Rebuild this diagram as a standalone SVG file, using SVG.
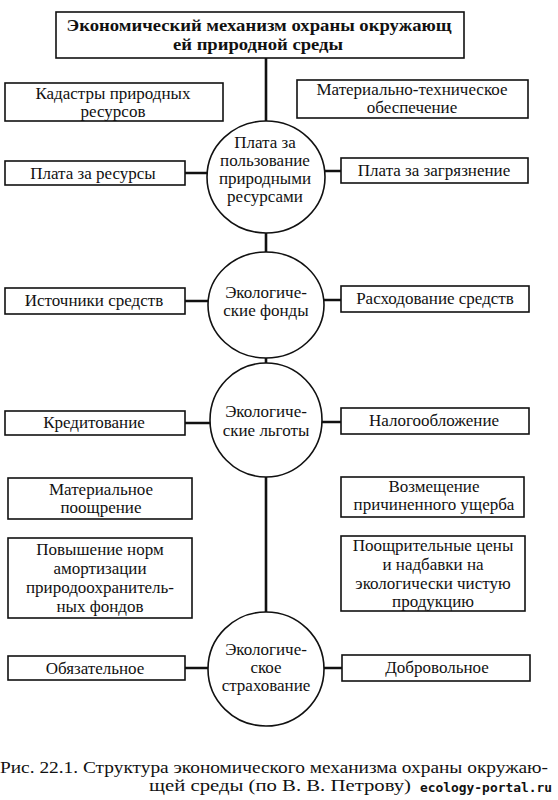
<svg xmlns="http://www.w3.org/2000/svg" width="558" height="800" viewBox="0 0 558 800">
<style>
  .bg { fill: #ffffff; }
  .box { fill: #ffffff; stroke: #111111; stroke-width: 1.6; }
  .circ { fill: #ffffff; stroke: #111111; stroke-width: 1.6; }
  .conn { stroke: #111111; stroke-width: 2.6; fill: none; }
  text { font-family: "Liberation Serif", "Times New Roman", serif; font-size: 17px; fill: #111111; text-anchor: middle; }
  .title { font-weight: bold; font-size: 17px; }
  .cap { font-size: 16px; text-anchor: start; }
  .wm { font-family: "DejaVu Sans Mono", "Liberation Mono", monospace; font-weight: bold; font-size: 12px; text-anchor: start; }
</style>
<rect class="bg" x="0" y="0" width="558" height="800"/>

<g id="connectors">
  <line class="conn" x1="266" y1="58" x2="266" y2="612"/>
  <line class="conn" x1="185" y1="173" x2="230" y2="173"/>
  <line class="conn" x1="300" y1="171" x2="341" y2="171"/>
  <line class="conn" x1="185" y1="301" x2="230" y2="301"/>
  <line class="conn" x1="300" y1="300" x2="341" y2="300"/>
  <line class="conn" x1="185" y1="423" x2="230" y2="423"/>
  <line class="conn" x1="300" y1="422" x2="341" y2="422"/>
  <line class="conn" x1="185" y1="668" x2="230" y2="668"/>
  <line class="conn" x1="300" y1="668" x2="342" y2="668"/>
</g>

<g id="title">
  <rect class="box" x="56" y="12" width="408" height="46"/>
  <text class="title" x="259" y="31" textLength="385" lengthAdjust="spacingAndGlyphs">Экономический механизм охраны окружающ</text>
  <text class="title" x="258" y="50" textLength="170" lengthAdjust="spacingAndGlyphs">ей природной среды</text>
</g>

<g id="kadastry">
  <rect class="box" x="5" y="83" width="218" height="38"/>
  <text x="113" y="99">Кадастры природных</text>
  <text x="113" y="117">ресурсов</text>
</g>

<g id="material-tech">
  <rect class="box" x="297" y="80" width="231" height="38"/>
  <text x="412" y="95">Материально-техническое</text>
  <text x="412" y="113">обеспечение</text>
</g>

<g id="plata-circle">
  <ellipse class="circ" cx="266" cy="177" rx="59" ry="56"/>
  <text x="265" y="148">Плата за</text>
  <text x="265" y="166">пользование</text>
  <text x="265" y="184">природными</text>
  <text x="265" y="202">ресурсами</text>
</g>

<g id="plata-resursy">
  <rect class="box" x="5" y="161" width="180" height="24"/>
  <text x="93" y="179">Плата за ресурсы</text>
</g>

<g id="plata-zagryaz">
  <rect class="box" x="341" y="158" width="187" height="25"/>
  <text x="434" y="176">Плата за загрязнение</text>
</g>

<g id="fondy-circle">
  <ellipse class="circ" cx="266" cy="305" rx="58" ry="53"/>
  <text x="266" y="298">Экологиче-</text>
  <text x="266" y="316">ские фонды</text>
</g>

<g id="istochniki">
  <rect class="box" x="5" y="288" width="180" height="26"/>
  <text x="94" y="306">Источники средств</text>
</g>

<g id="rashodovanie">
  <rect class="box" x="341" y="286" width="188" height="26"/>
  <text x="435" y="304">Расходование средств</text>
</g>

<g id="lgoty-circle">
  <ellipse class="circ" cx="266" cy="420" rx="56" ry="57"/>
  <text x="266" y="417">Экологиче-</text>
  <text x="266" y="436">ские льготы</text>
</g>

<g id="kreditovanie">
  <rect class="box" x="5" y="411" width="180" height="24"/>
  <text x="94" y="428">Кредитование</text>
</g>

<g id="nalog">
  <rect class="box" x="341" y="408" width="188" height="26"/>
  <text x="434" y="426">Налогообложение</text>
</g>

<g id="material-pooshr">
  <rect class="box" x="8" y="478" width="184" height="41"/>
  <text x="101" y="495">Материальное</text>
  <text x="101" y="513">поощрение</text>
</g>

<g id="povyshenie">
  <rect class="box" x="8" y="538" width="184" height="80"/>
  <text x="100" y="555">Повышение норм</text>
  <text x="100" y="574">амортизации</text>
  <text x="100" y="593">природоохранитель-</text>
  <text x="100" y="612">ных фондов</text>
</g>

<g id="vozmeshenie">
  <rect class="box" x="341" y="477" width="183" height="40"/>
  <text x="434" y="492">Возмещение</text>
  <text x="434" y="510">причиненного ущерба</text>
</g>

<g id="pooshritelnye">
  <rect class="box" x="341" y="536" width="184" height="75"/>
  <text x="433" y="551">Поощрительные цены</text>
  <text x="433" y="570">и надбавки на</text>
  <text x="433" y="589">экологически чистую</text>
  <text x="433" y="607">продукцию</text>
</g>

<g id="strahovanie-circle">
  <ellipse class="circ" cx="266" cy="669" rx="58" ry="57"/>
  <text x="266" y="655">Экологиче-</text>
  <text x="266" y="673">ское</text>
  <text x="266" y="691">страхование</text>
</g>

<g id="obyazatelnoe">
  <rect class="box" x="8" y="656" width="177" height="24"/>
  <text x="95" y="674">Обязательное</text>
</g>

<g id="dobrovolnoe">
  <rect class="box" x="342" y="655" width="188" height="26"/>
  <text x="437" y="673">Добровольное</text>
</g>

<g id="caption">
  <text class="cap" x="0" y="773" textLength="548" lengthAdjust="spacingAndGlyphs">Рис. 22.1. Структура экономического механизма охраны окружаю-</text>
  <text class="cap" x="149" y="791" textLength="262" lengthAdjust="spacingAndGlyphs">щей среды (по В. В. Петрову)</text>
  <text class="wm" x="420" y="792" textLength="132" lengthAdjust="spacingAndGlyphs">ecology-portal.ru</text>
</g>
</svg>
